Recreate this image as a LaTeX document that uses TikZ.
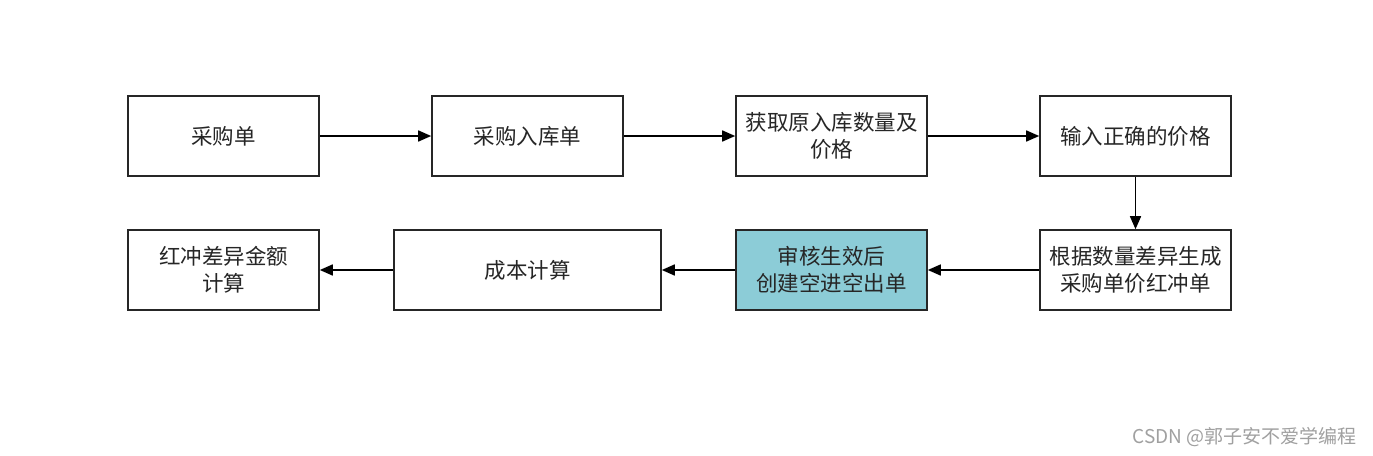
\documentclass[tikz,border=0pt]{standalone}
\usepackage{fontspec}
\setmainfont{Noto Sans CJK SC}
\usetikzlibrary{arrows.meta}
\definecolor{tealfill}{RGB}{140,204,215}
\definecolor{wm}{RGB}{160,160,160}
\begin{document}
\begin{tikzpicture}[x=1pt,y=-1pt,
  box/.style={draw=black!85, line width=1.6pt, minimum height=80pt, inner sep=0pt, align=center,
    font=\fontsize{21.5}{27}\selectfont, text=black!85},
  narrow/.style={box, minimum width=191pt},
  wide/.style={box, minimum width=267pt},
  conn/.style={draw=black, line width=1.6pt, -{Triangle[length=13pt,width=11pt]}}]
\useasboundingbox (0,0) rectangle (1373,455);
\fill[white] (0,0) rectangle (1373,455);
\node[narrow] (b1) at (223.5,136) {采购单};
\node[narrow] (b2) at (527.5,136) {采购入库单};
\node[narrow] (b3) at (831.5,136) {获取原入库数量及\\价格};
\node[narrow] (b4) at (1135.5,136) {输入正确的价格};
\node[narrow] (b5) at (1135.5,270) {根据数量差异生成\\采购单价红冲单};
\node[narrow, fill=tealfill] (b6) at (831.5,270) {审核生效后\\创建空进空出单};
\node[wide] (b7) at (527.5,270) {成本计算};
\node[narrow] (b8) at (223.5,270) {红冲差异金额\\计算};
\draw[conn] (b1) -- (b2);
\draw[conn] (b2) -- (b3);
\draw[conn] (b3) -- (b4);
\draw[conn] (b4) -- (b5);
\draw[conn] (b5) -- (b6);
\draw[conn] (b6) -- (b7);
\draw[conn] (b7) -- (b8);
\node[anchor=east, text=wm, font=\fontsize{19}{22}\selectfont, inner sep=0pt] (wmk) at (1357,437) {CSDN @郭子安不爱学编程};
\end{tikzpicture}
\end{document}
